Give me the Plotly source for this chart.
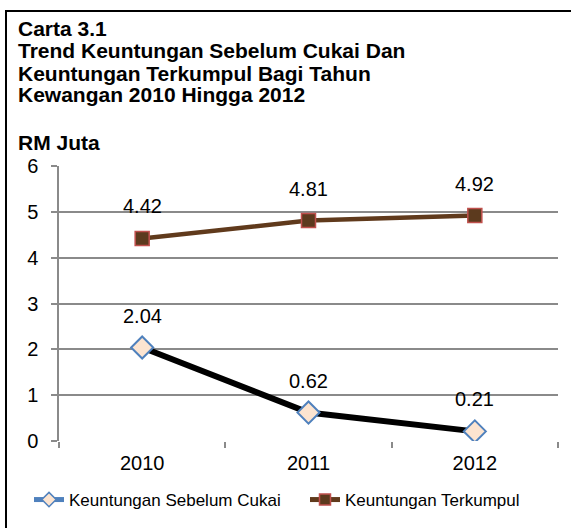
import plotly.graph_objects as go

years = ["2010", "2011", "2012"]
sebelum_cukai = [2.04, 0.62, 0.21]
terkumpul = [4.42, 4.81, 4.92]
series_names = ["Keuntungan Sebelum Cukai", "Keuntungan Terkumpul"]
y_ticks = [0, 1, 2, 3, 4, 5, 6]
title_lines = [
    "Carta 3.1",
    "Trend Keuntungan Sebelum Cukai Dan",
    "Keuntungan Terkumpul Bagi Tahun",
    "Kewangan 2010 Hingga 2012",
]
unit_label = "RM Juta"

W, H = 571, 528
L, R, T, B = 59, 13, 166, 87
pw, ph = W - L - R, H - T - B

def px(x):
    return (x - L) / pw

def py(y):
    return (H - B - y) / ph

FONT = "Liberation Sans, Arial, sans-serif"
GRID = "#8a8a8a"

fig = go.Figure()

fig.add_trace(go.Scatter(
    x=years, y=terkumpul, mode="lines+markers", showlegend=False,
    line=dict(color="#603A1C", width=4.5),
    marker=dict(symbol="square", size=14, color="#5C3A1E",
                line=dict(color="#C0504D", width=1.5)),
))
fig.add_trace(go.Scatter(
    x=years, y=sebelum_cukai, mode="lines+markers", showlegend=False,
    line=dict(color="#000000", width=6),
    marker=dict(symbol="diamond", size=17, color="#FCE4D0",
                line=dict(color="#4F81BD", width=2)),
))

fig.add_trace(go.Scatter(
    x=[None], y=[None], mode="lines+markers", name=series_names[0],
    line=dict(color="#4F81BD", width=5),
    marker=dict(symbol="diamond", size=11, color="#FCE4D0",
                line=dict(color="#4F81BD", width=1.5)),
))
fig.add_trace(go.Scatter(
    x=[None], y=[None], mode="lines+markers", name=series_names[1],
    line=dict(color="#603A1C", width=5),
    marker=dict(symbol="square", size=11, color="#5C3A1E",
                line=dict(color="#C0504D", width=1.5)),
))

annotations = []
for series in (terkumpul, sebelum_cukai):
    for i, yv in enumerate(series):
        annotations.append(dict(
            x=i, y=yv, xref="x", yref="y", text=f"{yv:.2f}",
            showarrow=False, yshift=32, yanchor="middle",
            font=dict(family=FONT, size=20, color="#000000"),
        ))

title_y = [29, 51, 73, 95]
for line, ty in zip(title_lines, title_y):
    annotations.append(dict(
        x=px(16), y=py(ty), xref="paper", yref="paper", xanchor="left", yanchor="middle",
        showarrow=False, text=f"<b>{line}</b>",
        font=dict(family=FONT, size=21, color="#000000"),
    ))
annotations.append(dict(
    x=px(16), y=py(143), xref="paper", yref="paper", xanchor="left", yanchor="middle",
    showarrow=False, text=f"<b>{unit_label}</b>",
    font=dict(family=FONT, size=21, color="#000000"),
))

shapes = [dict(
    type="rect", xref="paper", yref="paper",
    x0=px(6), x1=px(W + 20), y0=py(H + 20), y1=py(11),
    line=dict(color="#000000", width=2), fillcolor="rgba(0,0,0,0)", layer="above",
)]

fig.update_layout(
    width=W, height=H,
    margin=dict(l=L, r=R, t=T, b=B, pad=0, autoexpand=False),
    paper_bgcolor="white", plot_bgcolor="white",
    font=dict(family=FONT, size=20, color="#000000"),
    annotations=annotations, shapes=shapes,
    showlegend=True,
    legend=dict(
        orientation="h", x=px(29), y=py(500), xanchor="left", yanchor="middle",
        font=dict(family=FONT, size=17, color="#000000"),
        bgcolor="rgba(0,0,0,0)", itemwidth=30, tracegroupgap=0,
        entrywidth=231, entrywidthmode="pixels",
    ),
    xaxis=dict(
        type="category", categoryorder="array", categoryarray=years,
        tickson="boundaries", ticks="outside", ticklen=6, tickcolor=GRID, tickwidth=1.5,
        showgrid=False, showline=False, zeroline=False,
        tickfont=dict(family=FONT, size=20),
        ticklabelstandoff=8,
        range=[-0.5, 2.5],
    ),
    yaxis=dict(
        range=[0, 6], tickvals=y_ticks, ticks="outside", ticklen=6,
        tickcolor=GRID, tickwidth=1.5,
        showgrid=True, gridcolor=GRID, gridwidth=1.5,
        showline=True, linecolor=GRID, linewidth=1.5,
        zeroline=False,
        tickfont=dict(family=FONT, size=20),
        ticklabelstandoff=9,
    ),
)

fig.write_html(
    "out.html",
    config={"displayModeBar": False},
    post_script="document.body.style.margin='0';document.body.style.overflow='hidden';",
)
